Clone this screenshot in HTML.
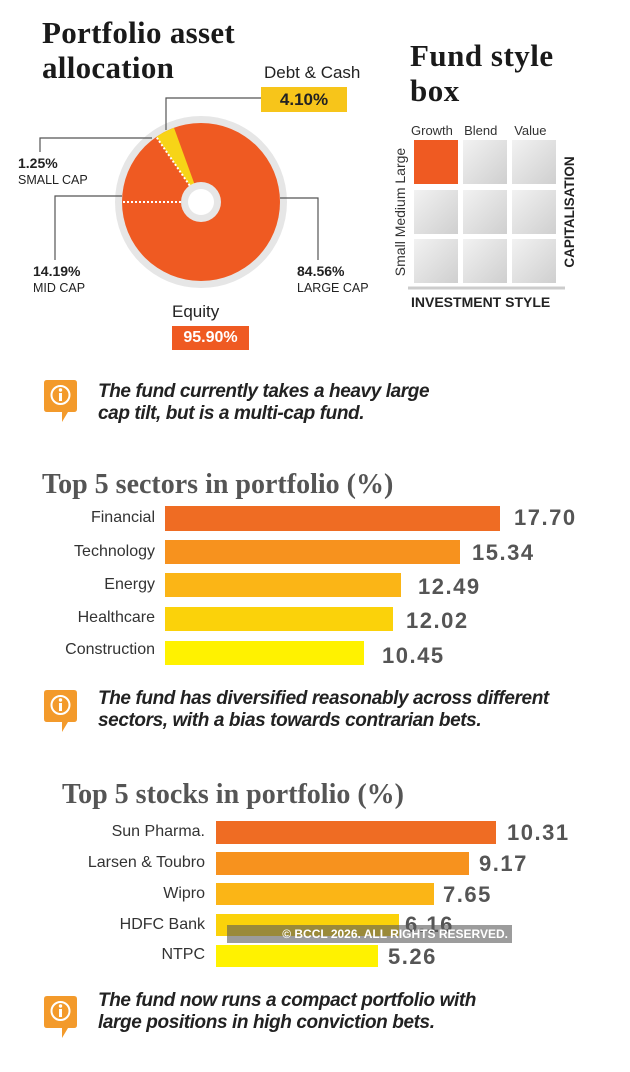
<!DOCTYPE html>
<html><head><meta charset="utf-8"><style>
html,body{margin:0;padding:0;background:#fff;}
body{width:630px;height:1072px;position:relative;overflow:hidden;font-family:"Liberation Sans",sans-serif;}
.a{position:absolute;white-space:nowrap;}
.serif{font-family:"Liberation Serif",serif;font-weight:bold;}
.note{font-weight:bold;font-style:italic;font-size:19px;color:#222;line-height:22px;letter-spacing:-0.4px;}
.lbl{font-size:16px;color:#333;text-align:right;}
.val{font-weight:bold;font-size:22px;color:#555;letter-spacing:1.5px;}
.bar{position:absolute;}
</style></head><body>
<div class="a serif" style="left:42px;top:15px;font-size:31px;line-height:35px;color:#1a1a1a;letter-spacing:0.3px;">Portfolio asset<br>allocation</div>
<div class="a serif" style="left:410px;top:38px;font-size:31px;line-height:35px;color:#1a1a1a;letter-spacing:0.5px;">Fund style<br>box</div>

<svg class="a" style="left:0;top:0" width="630" height="360">
  <circle cx="201" cy="202" r="86" fill="#e6e6e6"/>
  <circle cx="201" cy="202" r="79" fill="#ef5a22"/>
  <path d="M201 202 L156.3 136.9 A79 79 0 0 1 174 127.8 Z" fill="#f7d417"/>
  <line x1="201" y1="202" x2="156.3" y2="136.9" stroke="#fff" stroke-width="2" stroke-dasharray="2,2"/>
  <line x1="201" y1="202" x2="122" y2="202" stroke="#fff" stroke-width="2" stroke-dasharray="2,2"/>
  <circle cx="201" cy="202" r="20" fill="#e6e6e6"/>
  <circle cx="201" cy="202" r="13" fill="#fff"/>
  <g stroke="#555" stroke-width="1.2" fill="none">
    <polyline points="166,130 166,98 261,98"/>
    <polyline points="40,152 40,138 152,138"/>
    <polyline points="55,260 55,196 122,196"/>
    <polyline points="280,198 318,198 318,260"/>
  </g>
  <defs><linearGradient id="g" x1="0" y1="0" x2="1" y2="1"><stop offset="0" stop-color="#f2f2f2"/><stop offset="1" stop-color="#cfcfcf"/></linearGradient></defs>
  <rect x="414" y="140" width="44" height="44" fill="#ef5a22"/>
  <rect x="463" y="140" width="44" height="44" fill="url(#g)"/>
  <rect x="512" y="140" width="44" height="44" fill="url(#g)"/>
  <rect x="414" y="190" width="44" height="44" fill="url(#g)"/>
  <rect x="463" y="190" width="44" height="44" fill="url(#g)"/>
  <rect x="512" y="190" width="44" height="44" fill="url(#g)"/>
  <rect x="414" y="239" width="44" height="44" fill="url(#g)"/>
  <rect x="463" y="239" width="44" height="44" fill="url(#g)"/>
  <rect x="512" y="239" width="44" height="44" fill="url(#g)"/>
  <line x1="408" y1="288" x2="565" y2="288" stroke="#ccc" stroke-width="3"/>
  <text x="405" y="212" transform="rotate(-90 405 212)" text-anchor="middle" font-family="Liberation Sans" font-size="14" fill="#333">Small  Medium  Large</text>
  <text x="574" y="212" transform="rotate(-90 574 212)" text-anchor="middle" font-family="Liberation Sans" font-weight="bold" font-size="13.5" fill="#222">CAPITALISATION</text>
</svg>

<div class="a" style="left:264px;top:63px;font-size:17px;color:#222;">Debt &amp; Cash</div>
<div class="a" style="left:261px;top:87px;width:86px;height:25px;background:#f7c51a;color:#222;font-weight:bold;font-size:17px;text-align:center;line-height:25px;">4.10%</div>
<div class="a" style="left:18px;top:155px;font-size:14px;font-weight:bold;color:#222;line-height:16px;">1.25%<br><span style="font-weight:normal;font-size:12.5px;">SMALL CAP</span></div>
<div class="a" style="left:33px;top:263px;font-size:14px;font-weight:bold;color:#222;line-height:16px;">14.19%<br><span style="font-weight:normal;font-size:12.5px;">MID CAP</span></div>
<div class="a" style="left:297px;top:263px;font-size:14px;font-weight:bold;color:#222;line-height:16px;">84.56%<br><span style="font-weight:normal;font-size:12.5px;">LARGE CAP</span></div>
<div class="a" style="left:172px;top:302px;font-size:17px;color:#222;">Equity</div>
<div class="a" style="left:172px;top:326px;width:77px;height:24px;background:#ef5a22;color:#fff;font-weight:bold;font-size:16px;text-align:center;line-height:24px;">95.90%</div>
<div class="a" style="left:411px;top:123px;font-size:13px;color:#333;word-spacing:2px;">Growth&nbsp; Blend&nbsp;&nbsp; Value</div>
<div class="a" style="left:411px;top:294px;font-size:14px;font-weight:bold;color:#222;">INVESTMENT STYLE</div>

<svg class="a" style="left:44px;top:380px" width="33" height="44"><path d="M3 0H30Q33 0 33 3V29Q33 32 30 32H24L18 42L18 32H3Q0 32 0 29V3Q0 0 3 0Z" fill="#f39a2b"/><circle cx="16.5" cy="15" r="9" fill="none" stroke="#fff" stroke-width="2"/><rect x="15" y="13" width="3" height="8" fill="#fff"/><circle cx="16.5" cy="10" r="1.7" fill="#fff"/></svg>
<div class="a note" style="left:98px;top:381px;">The fund currently takes a heavy large<br>cap tilt, but is a multi-cap fund.</div>

<div class="a serif" style="left:42px;top:469px;font-size:28px;color:#555;">Top 5 sectors in portfolio (%)</div>
<div class="a lbl" style="left:0;width:155px;top:509px;">Financial</div>
<div class="a lbl" style="left:0;width:155px;top:543px;">Technology</div>
<div class="a lbl" style="left:0;width:155px;top:576px;">Energy</div>
<div class="a lbl" style="left:0;width:155px;top:609px;">Healthcare</div>
<div class="a lbl" style="left:0;width:155px;top:641px;">Construction</div>
<div class="bar" style="left:165px;top:506px;width:335px;height:25px;background:#ef6c23"></div>
<div class="bar" style="left:165px;top:540px;width:295px;height:24px;background:#f7921e"></div>
<div class="bar" style="left:165px;top:573px;width:236px;height:24px;background:#fbb516"></div>
<div class="bar" style="left:165px;top:607px;width:228px;height:24px;background:#fbd20a"></div>
<div class="bar" style="left:165px;top:641px;width:199px;height:24px;background:#fff200"></div>
<div class="a val" style="left:514px;top:505px;">17.70</div>
<div class="a val" style="left:472px;top:540px;">15.34</div>
<div class="a val" style="left:418px;top:574px;">12.49</div>
<div class="a val" style="left:406px;top:608px;">12.02</div>
<div class="a val" style="left:382px;top:643px;">10.45</div>

<svg class="a" style="left:44px;top:690px" width="33" height="44"><path d="M3 0H30Q33 0 33 3V29Q33 32 30 32H24L18 42L18 32H3Q0 32 0 29V3Q0 0 3 0Z" fill="#f39a2b"/><circle cx="16.5" cy="15" r="9" fill="none" stroke="#fff" stroke-width="2"/><rect x="15" y="13" width="3" height="8" fill="#fff"/><circle cx="16.5" cy="10" r="1.7" fill="#fff"/></svg>
<div class="a note" style="left:98px;top:688px;">The fund has diversified reasonably across different<br>sectors, with a bias towards contrarian bets.</div>

<div class="a serif" style="left:62px;top:779px;font-size:28px;color:#555;">Top 5 stocks in portfolio (%)</div>
<div class="a lbl" style="left:0;width:205px;top:823px;">Sun Pharma.</div>
<div class="a lbl" style="left:0;width:205px;top:854px;">Larsen &amp; Toubro</div>
<div class="a lbl" style="left:0;width:205px;top:885px;">Wipro</div>
<div class="a lbl" style="left:0;width:205px;top:916px;">HDFC Bank</div>
<div class="a lbl" style="left:0;width:205px;top:946px;">NTPC</div>
<div class="bar" style="left:216px;top:821px;width:280px;height:23px;background:#ef6c23"></div>
<div class="bar" style="left:216px;top:852px;width:253px;height:23px;background:#f7921e"></div>
<div class="bar" style="left:216px;top:883px;width:218px;height:22px;background:#fbb516"></div>
<div class="bar" style="left:216px;top:914px;width:183px;height:22px;background:#fbd20a"></div>
<div class="bar" style="left:216px;top:945px;width:162px;height:22px;background:#fff200"></div>
<div class="a val" style="left:507px;top:820px;">10.31</div>
<div class="a val" style="left:479px;top:851px;">9.17</div>
<div class="a val" style="left:443px;top:882px;">7.65</div>
<div class="a val" style="left:405px;top:912px;">6.16</div>
<div class="a val" style="left:388px;top:944px;">5.26</div>
<div class="a" style="left:227px;top:925px;width:285px;height:18px;background:rgba(90,90,90,0.6);"></div>
<div class="a" style="left:227px;top:925px;width:281px;height:18px;line-height:18px;text-align:right;color:#fff;font-size:12px;font-weight:bold;">© BCCL 2026. ALL RIGHTS RESERVED.</div>

<svg class="a" style="left:44px;top:996px" width="33" height="44"><path d="M3 0H30Q33 0 33 3V29Q33 32 30 32H24L18 42L18 32H3Q0 32 0 29V3Q0 0 3 0Z" fill="#f39a2b"/><circle cx="16.5" cy="15" r="9" fill="none" stroke="#fff" stroke-width="2"/><rect x="15" y="13" width="3" height="8" fill="#fff"/><circle cx="16.5" cy="10" r="1.7" fill="#fff"/></svg>
<div class="a note" style="left:98px;top:990px;">The fund now runs a compact portfolio with<br>large positions in high conviction bets.</div>
</body></html>
